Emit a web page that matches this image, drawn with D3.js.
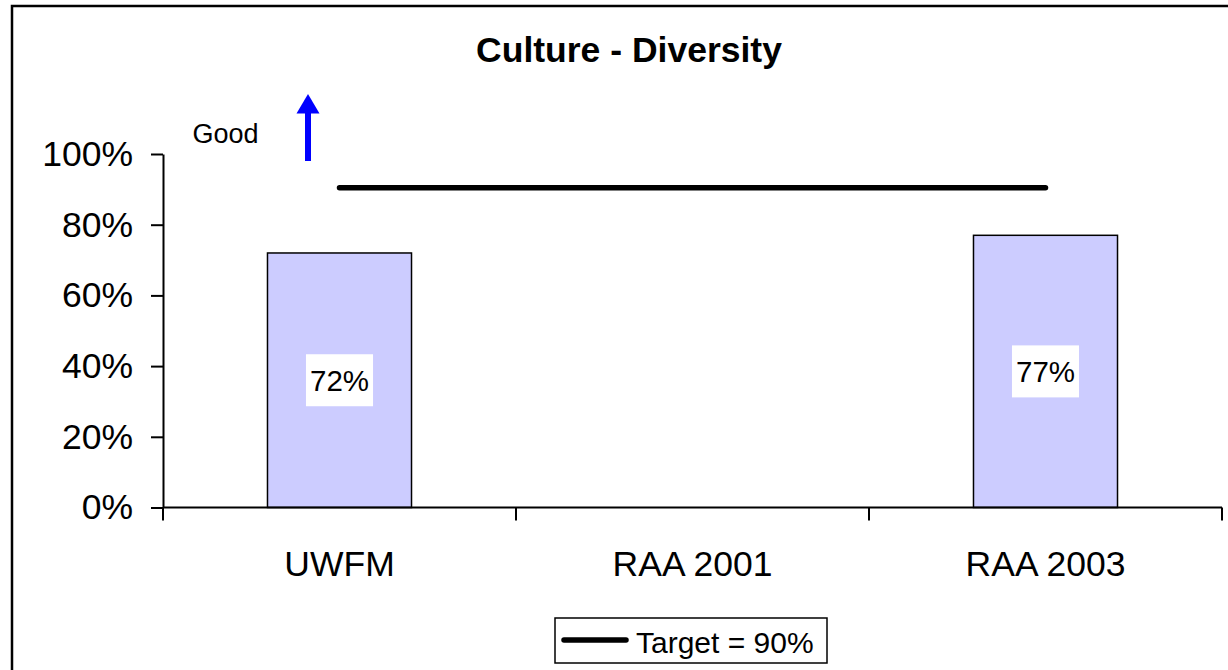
<!DOCTYPE html>
<html>
<head>
<meta charset="utf-8">
<script src="https://cdn.jsdelivr.net/npm/d3@7"></script>
<style>
  html, body { margin: 0; padding: 0; background: #fff; }
  svg { display: block; font-family: "Liberation Sans", Arial, sans-serif; }
</style>
</head>
<body>
<svg id="chart" width="1228" height="670"></svg>
<script>
// ---- data ----
const categories = ["UWFM", "RAA 2001", "RAA 2003"];
const actualValues = [0.72, null, 0.77];
const targetValues = [0.90, 0.90, 0.90];
const yTickValues = [0, 0.2, 0.4, 0.6, 0.8, 1.0];
const chartTitle = "Culture - Diversity";
const legendLabel = "Target = 90%";
const goodLabel = "Good";

// ---- layout ----
const svg = d3.select("#chart");
const plot = { left: 163, right: 1222, top: 154, bottom: 507.5 };

// outer frame
svg.append("rect")
  .attr("x", 12).attr("y", 6)
  .attr("width", 1240).attr("height", 700)
  .attr("fill", "none").attr("stroke", "#000").attr("stroke-width", 2.5);

const y = d3.scaleLinear().domain([0, 1]).range([plot.bottom, plot.top]);
const x = d3.scaleBand().domain(categories).range([plot.left, plot.right]).padding(0);
const xBar = d3.scaleBand().domain(categories).range([plot.left, plot.right])
  .paddingInner(0.592).paddingOuter(0.296);

// title
svg.append("text")
  .attr("x", 629).attr("y", 62)
  .attr("text-anchor", "middle")
  .attr("font-size", 35.5).attr("font-weight", "bold")
  .text(chartTitle);

// bars
const barData = categories.map((c, i) => ({ cat: c, v: actualValues[i] })).filter(d => d.v != null);
svg.append("g").selectAll("rect")
  .data(barData).join("rect")
  .attr("x", d => xBar(d.cat))
  .attr("y", d => y(d.v))
  .attr("width", xBar.bandwidth())
  .attr("height", d => y(0) - y(d.v))
  .attr("fill", "#ccccff")
  .attr("stroke", "#000").attr("stroke-width", 1.5);

// y axis
const yAxis = d3.axisLeft(y).tickValues(yTickValues)
  .tickFormat(d3.format(".0%")).tickSize(12).tickSizeOuter(0).tickPadding(18);
const gy = svg.append("g").attr("transform", `translate(${plot.left},0)`).call(yAxis);
gy.select(".domain").attr("stroke-width", 2);
gy.selectAll(".tick line").attr("stroke-width", 2);
gy.selectAll(".tick text").attr("font-size", 35.5).attr("fill", "#000")
  .attr("font-family", "'Liberation Sans', Arial, sans-serif");

// x axis line and boundary ticks
const gx = svg.append("g");
gx.append("line")
  .attr("x1", plot.left).attr("x2", plot.right)
  .attr("y1", y(0)).attr("y2", y(0))
  .attr("stroke", "#000").attr("stroke-width", 2);
const boundaries = categories.map(c => x(c)).concat([x(categories[categories.length - 1]) + x.bandwidth()]);
gx.selectAll("line.bt").data(boundaries).join("line")
  .attr("class", "bt")
  .attr("x1", d => d).attr("x2", d => d)
  .attr("y1", y(0)).attr("y2", y(0) + 13)
  .attr("stroke", "#000").attr("stroke-width", 2);
gx.selectAll("text").data(categories).join("text")
  .attr("x", d => x(d) + x.bandwidth() / 2)
  .attr("y", 575.5)
  .attr("text-anchor", "middle")
  .attr("font-size", 35.5)
  .text(d => d);

// target line
const line = d3.line()
  .x((d, i) => x(categories[i]) + x.bandwidth() / 2)
  .y(d => y(d) - 1.5);
svg.append("path")
  .datum(targetValues)
  .attr("d", line)
  .attr("fill", "none").attr("stroke", "#000")
  .attr("stroke-width", 5.5).attr("stroke-linecap", "round");

// bar value labels
const lbl = svg.append("g").selectAll("g").data(barData).join("g")
  .attr("transform", d => `translate(${xBar(d.cat) + xBar.bandwidth() / 2},${(y(d.v) + y(0)) / 2})`);
lbl.append("text")
  .attr("text-anchor", "middle")
  .attr("dy", "0.35em")
  .attr("font-size", 29.5)
  .text(d => d3.format(".0%")(d.v));
lbl.each(function () {
  const g = d3.select(this);
  const bb = g.select("text").node().getBBox();
  g.insert("rect", "text")
    .attr("x", bb.x - 4).attr("y", -26)
    .attr("width", bb.width + 8).attr("height", 52)
    .attr("fill", "#fff");
});

// "Good" annotation with arrow
svg.append("text")
  .attr("x", 192.5).attr("y", 142.5)
  .attr("font-size", 27)
  .text(goodLabel);
svg.append("rect")
  .attr("x", 305).attr("y", 110).attr("width", 6).attr("height", 51)
  .attr("fill", "#0000ff");
svg.append("path")
  .attr("d", "M308,94 L319.5,113.5 L296.5,113.5 Z")
  .attr("fill", "#0000ff");

// legend
const lg = svg.append("g");
lg.append("rect")
  .attr("x", 555).attr("y", 618).attr("width", 272).attr("height", 45)
  .attr("fill", "#fff").attr("stroke", "#000").attr("stroke-width", 1.5);
lg.append("line")
  .attr("x1", 564).attr("x2", 626).attr("y1", 640).attr("y2", 640)
  .attr("stroke", "#000").attr("stroke-width", 5.5).attr("stroke-linecap", "round");
lg.append("text")
  .attr("x", 636).attr("y", 653)
  .attr("font-size", 30)
  .text(legendLabel);
</script>
</body>
</html>
